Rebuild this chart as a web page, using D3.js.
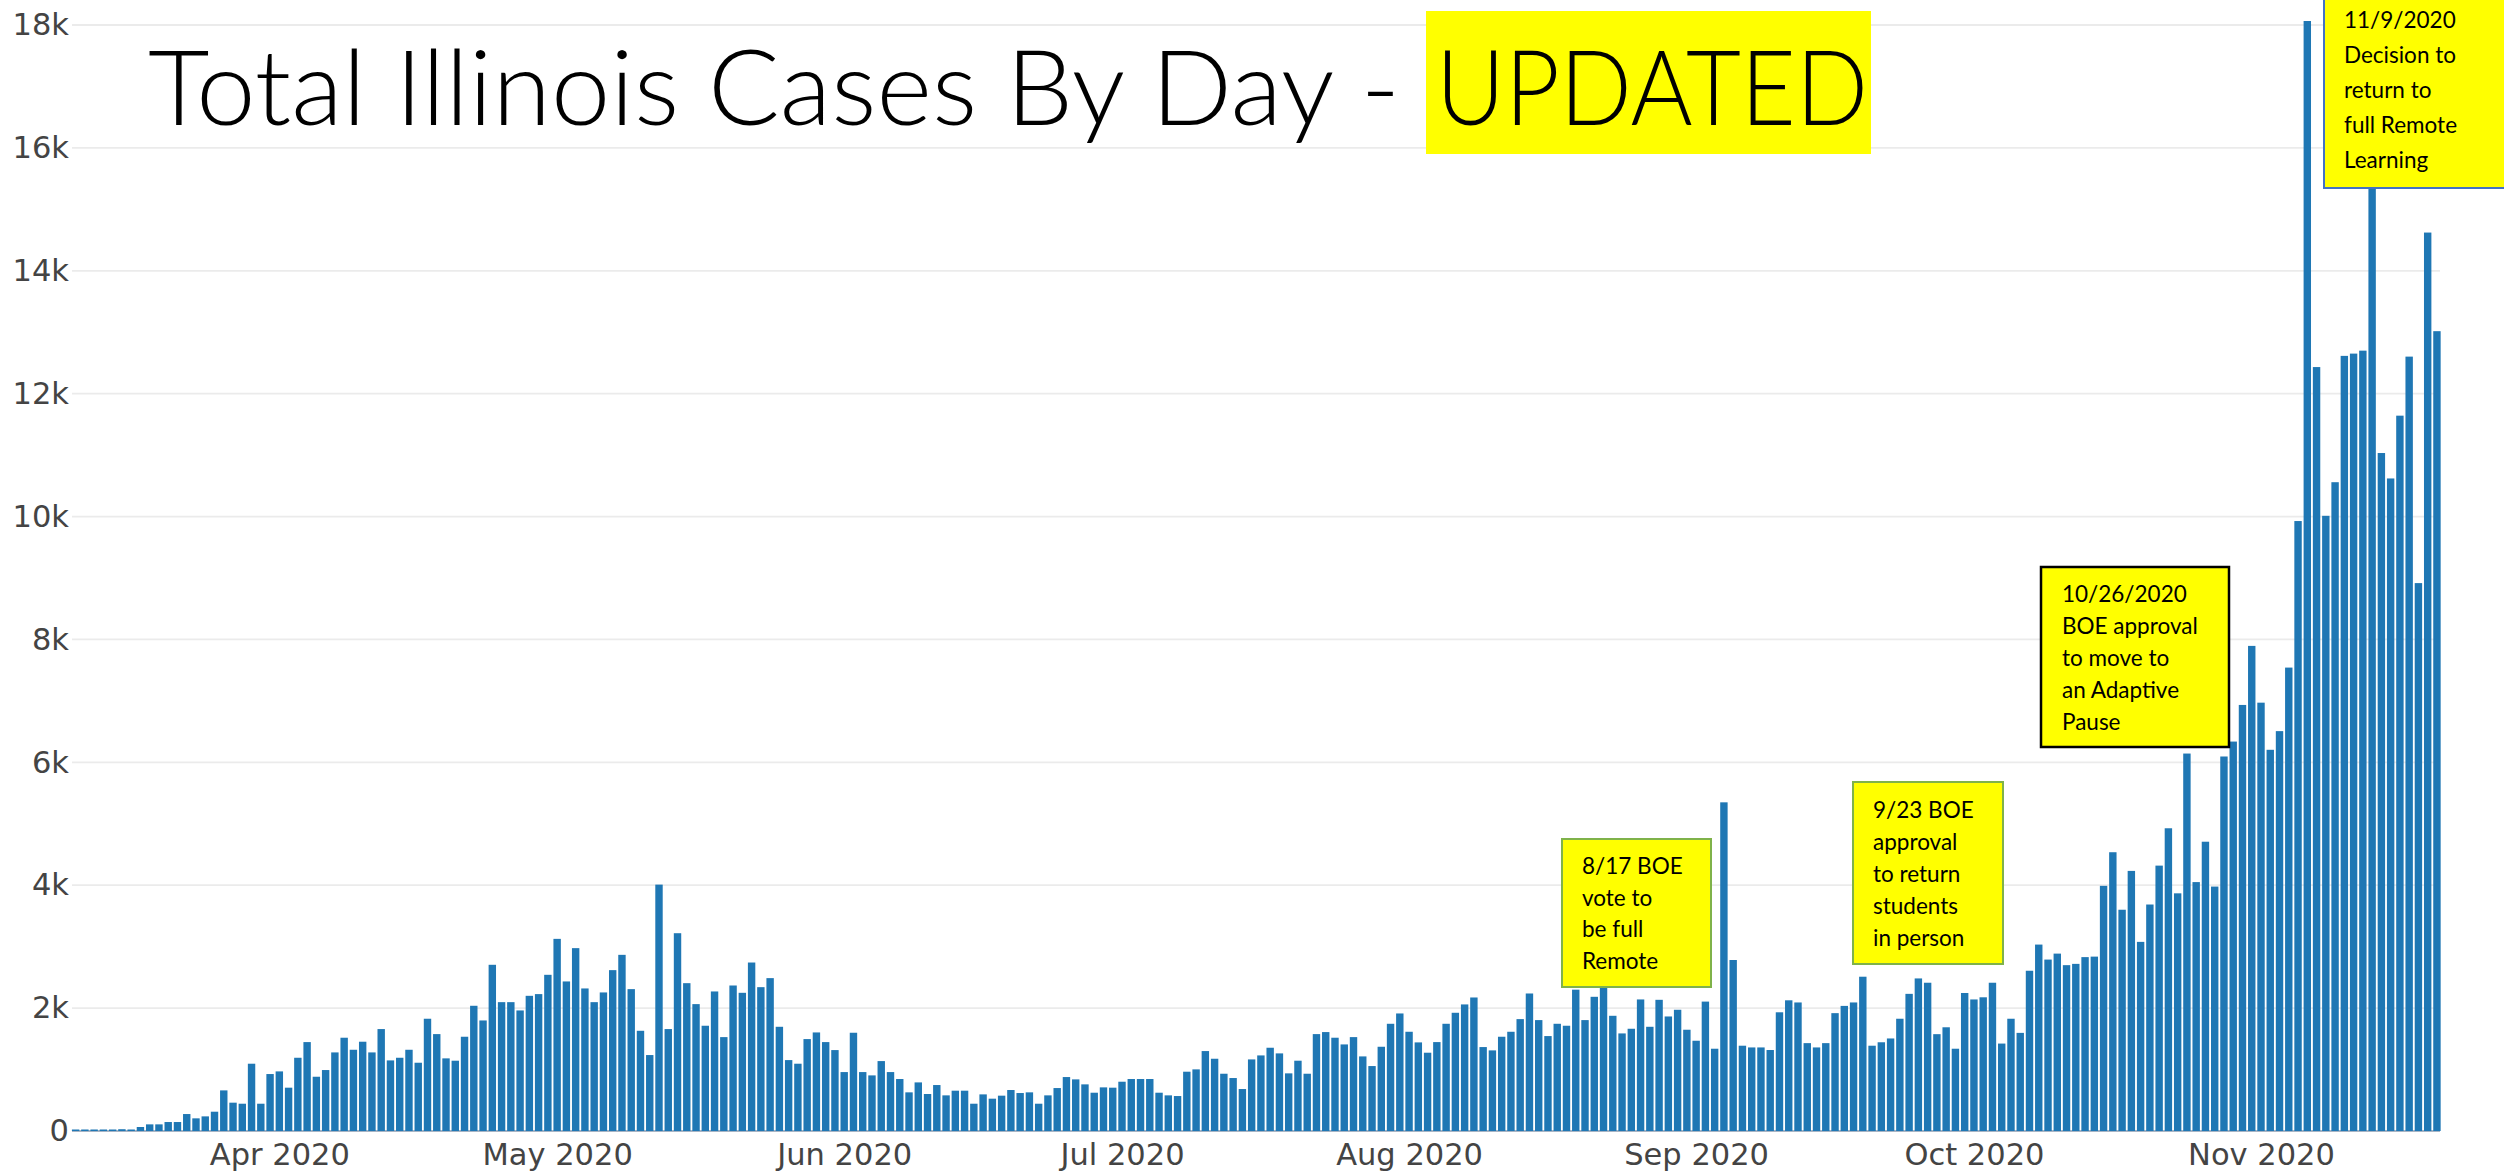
<!DOCTYPE html>
<html>
<head>
<meta charset="utf-8">
<script src="https://cdn.jsdelivr.net/npm/d3@7"></script>
<style>
  html, body { margin: 0; padding: 0; background: #ffffff; }
  svg { display: block; }
</style>
</head>
<body>
<div id="chart"></div>
<script>
// ---------------- DATA ----------------
const firstDay = "2020-03-10";
const marValues = [8, 6, 7, 14, 18, 29, 12, 65, 108, 108, 146, 146, 276, 206, 238, 314, 661, 461, 444, 1095, 444, 927];
const aprValues = [970, 705, 1192, 1447, 883, 992, 1279, 1518, 1322, 1453, 1279, 1659, 1149, 1192, 1322, 1111, 1827, 1577, 1182, 1144, 1534, 2038, 1799, 2705, 2097, 2097, 1962, 2200, 2228, 2542];
const mayValues = [3127, 2434, 2976, 2320, 2097, 2255, 2618, 2867, 2309, 1631, 1236, 4010, 1659, 3219, 2406, 2065, 1713, 2271, 1528, 2368, 2249, 2742, 2341, 2488, 1696, 1154, 1095, 1496, 1604, 1447, 1317];
const junValues = [959, 1599, 959, 905, 1138, 959, 846, 629, 791, 602, 748, 580, 656, 656, 444, 596, 526, 575, 667, 618, 629, 444, 580, 699, 878, 840, 759, 623, 710, 705];
const julValues = [802, 846, 846, 846, 623, 580, 569, 965, 1003, 1301, 1176, 932, 862, 683, 1165, 1230, 1355, 1263, 938, 1144, 932, 1577, 1610, 1518, 1409, 1528, 1214, 1057, 1371, 1745, 1913];
const augValues = [1615, 1442, 1274, 1447, 1745, 1924, 2060, 2173, 1366, 1312, 1534, 1615, 1821, 2238, 1805, 1545, 1745, 1713, 2300, 1805, 2184, 2350, 1875, 1588, 1664, 2141, 1696, 2135, 1864, 1973, 1648];
const sepValues = [1469, 2106, 1339, 5349, 2783, 1388, 1360, 1360, 1318, 1932, 2127, 2092, 1430, 1360, 1430, 1918, 2036, 2092, 2511, 1388, 1444, 1506, 1827, 2232, 2483, 2413, 1576, 1688, 1339, 2246];
const octValues = [2141, 2176, 2413, 1423, 1827, 1597, 2608, 3034, 2790, 2887, 2699, 2720, 2830, 2838, 3990, 4537, 3601, 4233, 3078, 3686, 4319, 4927, 3868, 6143, 4051, 4708, 3978, 6095, 6338, 6934, 7895];
const novValues = [6971, 6204, 6508, 7542, 9927, 18065, 12433, 10012, 10559, 12615, 12652, 12700, 15400, 11034, 10620, 11642, 12603, 8917, 14622, 13017];

const xTickDates = ["2020-04-01", "2020-05-01", "2020-06-01", "2020-07-01", "2020-08-01", "2020-09-01", "2020-10-01", "2020-11-01"];
const xTickLabels = ["Apr 2020", "May 2020", "Jun 2020", "Jul 2020", "Aug 2020", "Sep 2020", "Oct 2020", "Nov 2020"];
const yTickValues = [0, 2000, 4000, 6000, 8000, 10000, 12000, 14000, 16000, 18000];
const yTickLabels = ["0", "2k", "4k", "6k", "8k", "10k", "12k", "14k", "16k", "18k"];

const titleMain = "Total Illinois Cases By Day - ";
const titleHighlight = "UPDATED";

const noteTexts = [
  ["8/17 BOE", "vote to", "be full", "Remote"],
  ["9/23 BOE", "approval", "to return", "students", "in person"],
  ["10/26/2020", "BOE approval", "to move to", "an Adaptive", "Pause"],
  ["11/9/2020", "Decision to", "return to", "full Remote", "Learning"]
];

// ---------------- BUILD ----------------
const DAY = 864e5;
const allValues = [].concat(marValues, aprValues, mayValues, junValues, julValues, augValues, sepValues, octValues, novValues);
const t0 = Date.parse(firstDay + "T00:00:00Z");
const data = allValues.map((v, i) => ({ date: new Date(t0 + i * DAY), value: v }));
const lastT = data[data.length - 1].date.getTime();

const W = 2504, H = 1172;
const plotLeft = 72, plotRight = 2440;
const baseY = 1131, topY = 25;

const x = d3.scaleUtc()
  .domain([new Date(t0 - 0.39 * DAY), new Date(lastT + 0.33 * DAY)])
  .range([plotLeft, plotRight]);
const y = d3.scaleLinear().domain([0, 18000]).range([baseY, topY]);

const dayPx = x(new Date(t0 + DAY)) - x(new Date(t0));
const barW = dayPx * 0.8;

const svg = d3.select("#chart").append("svg")
  .attr("width", W).attr("height", H)
  .attr("viewBox", `0 0 ${W} ${H}`);

// gridlines
svg.append("g").selectAll("line")
  .data(yTickValues.filter(v => v > 0))
  .join("line")
  .attr("x1", plotLeft).attr("x2", plotRight)
  .attr("y1", d => y(d)).attr("y2", d => y(d))
  .attr("stroke", "#ebebeb").attr("stroke-width", 1.8);

// zero line
svg.append("line")
  .attr("x1", plotLeft).attr("x2", plotRight)
  .attr("y1", y(0)).attr("y2", y(0))
  .attr("stroke", "#8a9bb0").attr("stroke-width", 1.6);

// bars
svg.append("g").selectAll("rect")
  .data(data)
  .join("rect")
  .attr("x", d => x(d.date) - barW / 2)
  .attr("width", barW)
  .attr("y", d => Math.min(y(d.value), y(0) - 1.5))
  .attr("height", d => Math.max(y(0) - y(d.value), 1.5))
  .attr("fill", "#1f77b4");

// y axis
const yAxis = d3.axisLeft(y)
  .tickValues(yTickValues)
  .tickFormat((d, i) => yTickLabels[i])
  .tickSize(0)
  .tickPadding(3);
const gy = svg.append("g").attr("transform", `translate(${plotLeft},0)`).call(yAxis);
gy.select(".domain").remove();
gy.selectAll("text")
  .attr("font-family", "'DejaVu Sans', Verdana, sans-serif")
  .attr("font-size", 30.5)
  .attr("fill", "#444");

// x axis
const xAxis = d3.axisBottom(x)
  .tickValues(xTickDates.map(s => new Date(s + "T00:00:00Z")))
  .tickFormat((d, i) => xTickLabels[i])
  .tickSize(0)
  .tickPadding(12);
const gx = svg.append("g").attr("transform", `translate(0,${baseY})`).call(xAxis);
gx.select(".domain").remove();
gx.selectAll("text")
  .attr("font-family", "'DejaVu Sans', Verdana, sans-serif")
  .attr("font-size", 30.5)
  .attr("fill", "#444");

// title
svg.append("rect")
  .attr("x", 1426).attr("y", 11).attr("width", 445).attr("height", 143)
  .attr("fill", "#ffff00");
svg.append("text")
  .attr("x", 148).attr("y", 125)
  .attr("font-family", "Lato, 'Open Sans', sans-serif")
  .attr("font-weight", 300)
  .attr("font-size", 104)
  .attr("fill", "#000")
  .attr("textLength", 1252)
  .attr("lengthAdjust", "spacingAndGlyphs")
  .text(titleMain.trim());
svg.append("text")
  .attr("x", 1436).attr("y", 125)
  .attr("font-family", "Lato, 'Open Sans', sans-serif")
  .attr("font-weight", 300)
  .attr("font-size", 104)
  .attr("fill", "#000")
  .attr("textLength", 432)
  .attr("lengthAdjust", "spacingAndGlyphs")
  .text(titleHighlight);

// annotation boxes
const noteBoxes = [
  { x: 1562, y: 839, w: 149, h: 148, stroke: "#7fb24a", sw: 2, tx: 1582, ty: 874, lh: 31.7 },
  { x: 1853, y: 782, w: 150, h: 182, stroke: "#7fb24a", sw: 2, tx: 1873, ty: 818, lh: 32 },
  { x: 2041, y: 567, w: 188, h: 180, stroke: "#000000", sw: 2.5, tx: 2062, ty: 602, lh: 32 },
  { x: 2324, y: -4, w: 190, h: 192, stroke: "#4472c4", sw: 2, tx: 2344, ty: 28, lh: 35 }
];
noteBoxes.forEach((b, i) => {
  const g = svg.append("g");
  g.append("rect")
    .attr("x", b.x).attr("y", b.y).attr("width", b.w).attr("height", b.h)
    .attr("fill", "#ffff00").attr("stroke", b.stroke).attr("stroke-width", b.sw);
  g.selectAll("text")
    .data(noteTexts[i])
    .join("text")
    .attr("x", b.tx)
    .attr("y", (d, j) => b.ty + j * b.lh)
    .attr("font-family", "Lato, 'Open Sans', sans-serif")
    .attr("font-size", 22.5)
    .attr("fill", "#000")
    .text(d => d);
});
</script>
</body>
</html>
